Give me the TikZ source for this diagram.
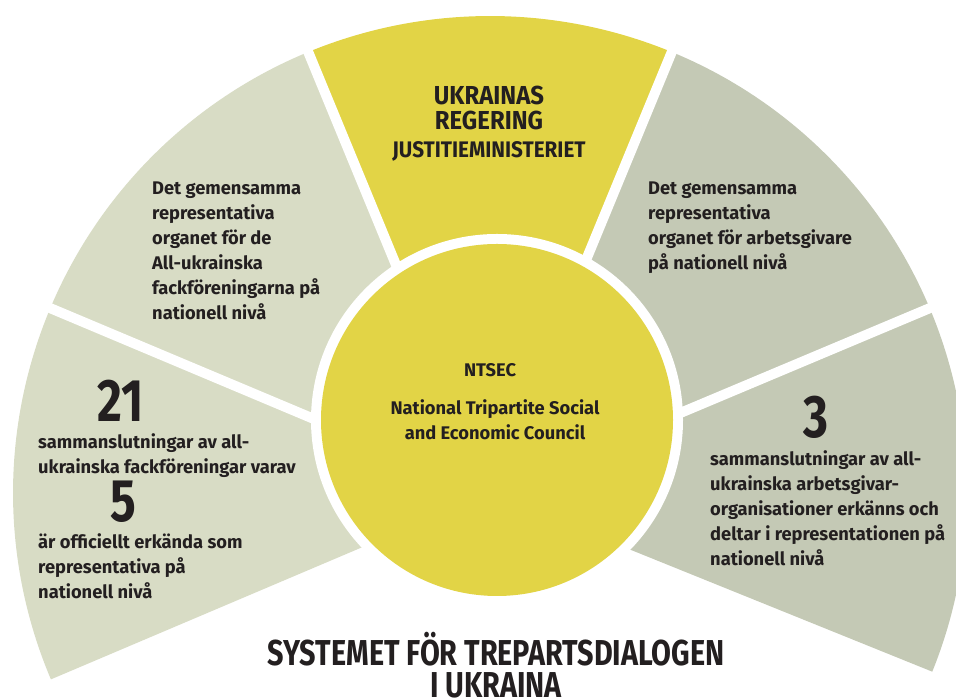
\documentclass[tikz,border=0pt]{standalone}
\usepackage{fontspec}
\setmainfont{Fira Sans}
\newfontfamily\condfont[FakeStretch=0.8]{Fira Sans}
\newfontfamily\headfont[FakeStretch=0.92]{Fira Sans}

\definecolor{fanyellow}{RGB}{226,212,70}
\definecolor{sageleft}{RGB}{216,220,197}
\definecolor{sageright}{RGB}{196,201,181}
\definecolor{ink}{RGB}{35,31,32}

\tikzset{
	body/.style={font=\bfseries\fontsize{18.3}{25}\selectfont, text=ink,
		inner sep=0pt, align=left, anchor=north west},
	head/.style={text=ink, inner sep=0pt, anchor=base},
	bignum/.style={font=\condfont\bfseries\fontsize{60}{60}\selectfont,
		text=ink, inner sep=0pt, anchor=base}
}

\begin{document}
\begin{tikzpicture}[x=1pt,y=1pt]
	\useasboundingbox (0,0) rectangle (956,700);
	% fan centre and centre of the council disc
	\coordinate (fan) at (490,207);
	\coordinate (hub) at (497,280);
	% 1) five slices of one big circle
	\foreach \a/\b/\c in {-22/22.8/sageright, 22.8/67.6/sageright,
		67.6/112.4/fanyellow, 112.4/157.2/sageleft, 157.2/203/sageleft}
		\fill[\c] (fan) -- ++(\a:477) arc[start angle=\a, end angle=\b, radius=477] -- cycle;
	% 2) white gaps between the slices, all in one path
	\draw[white, line width=10pt] \foreach \a in {22.8,67.6,112.4,157.2}
	{
		(fan) -- ++(\a:500)
	};
	% 3) white ring, then the disc on top
	\fill[white] (hub) circle[radius=186];
	\fill[fanyellow] (hub) circle[radius=176];

	% government slice
	\node[head, font=\headfont\bfseries\fontsize{26}{26}\selectfont] (ukr) at (489,595) {UKRAINAS};
	\node[head, font=\headfont\bfseries\fontsize{26}{26}\selectfont] (reg) at (489,570) {REGERING};
	\node[head, font=\headfont\bfseries\fontsize{22.5}{22.5}\selectfont] (just) at (489,542) {JUSTITIEMINISTERIET};

	% upper slices
	\node[body] (unions) at (152,518) {Det gemensamma\\representativa\\organet för de\\All-ukrainska\\fackföreningarna på\\nationell nivå};
	\node[body] (employers) at (648,518) {Det gemensamma\\representativa\\organet för arbetsgivare\\på nationell nivå};

	% lower left slice
	\node[bignum] (n21) at (121,278) {21};
	\node[body] (unionsA) at (38,267) {sammanslutningar av all-\\ukrainska fackföreningar varav};
	\node[bignum] (n5) at (123,178) {5};
	\node[body] (unionsB) at (38,167) {är officiellt erkända som\\representativa på\\nationell nivå};

	% lower right slice
	\node[bignum] (n3) at (816,262) {3};
	\node[body] (employersA) at (710,250) {sammanslutningar av all-\\ukrainska arbetsgivar-\\organisationer erkänns och\\deltar i representationen på\\nationell nivå};

	% council disc (base of a two line node = its last line)
	\node[head, font=\bfseries\fontsize{18.3}{25}\selectfont] (ntsec) at (490,323) {NTSEC};
	\node[head, font=\bfseries\fontsize{18.3}{25}\selectfont, align=center] (council) at (495,260) {National Tripartite Social\\and Economic Council};

	% title, runs off the bottom edge as in the original
	\node[head, font=\condfont\bfseries\fontsize{36}{32}\selectfont, align=center] (title) at (496,2) {SYSTEMET FÖR TREPARTSDIALOGEN\\I UKRAINA};
\end{tikzpicture}
\end{document}
